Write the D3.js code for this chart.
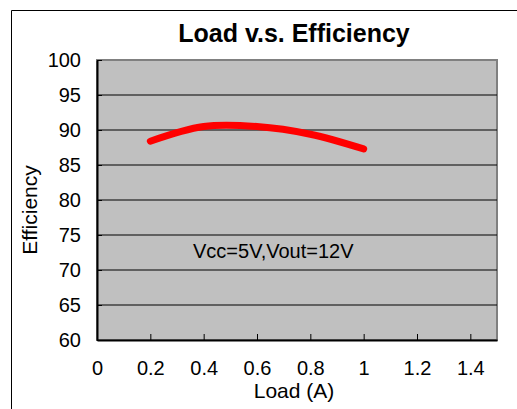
<!DOCTYPE html>
<html>
<head>
<meta charset="utf-8">
<script src="https://cdn.jsdelivr.net/npm/d3@7"></script>
<style>
  body { margin: 0; background: #fff; }
  text { font-family: "Liberation Sans", Arial, sans-serif; fill: #000; }
</style>
</head>
<body>
<svg width="517" height="409"></svg>
<script>
// Data
const loads = [0.2, 0.4, 0.6, 0.8, 1.0];
const efficiency = [88.4, 90.5, 90.5, 89.4, 87.3];
const xTicks = [0, 0.2, 0.4, 0.6, 0.8, 1, 1.2, 1.4];
const yTicks = [60, 65, 70, 75, 80, 85, 90, 95, 100];

const margin = {top: 60, right: 20, bottom: 69, left: 97},
      width = 400,
      height = 280;

const svg = d3.select("svg");

// Outer frame (left + top only visible)
svg.append("path")
    .attr("d", "M11.5,409 V10.5 H517")
    .attr("fill", "none")
    .attr("stroke", "#000")
    .attr("stroke-width", 1);

const g = svg.append("g")
    .attr("transform", `translate(${margin.left},${margin.top})`);

const x = d3.scaleLinear().domain([0, 1.5]).range([0, width]);
const y = d3.scaleLinear().domain([60, 100]).range([height, 0]);

// Plot area
g.append("rect")
    .attr("width", width)
    .attr("height", height)
    .attr("fill", "#c0c0c0")
    .attr("stroke", "#808080")
    .attr("stroke-width", 2);

// Gridlines
g.selectAll(".grid")
    .data(yTicks.filter(d => d > 60 && d < 100))
  .enter().append("line")
    .attr("class", "grid")
    .attr("x1", 0)
    .attr("x2", width)
    .attr("y1", d => y(d))
    .attr("y2", d => y(d))
    .attr("stroke", "#000")
    .attr("stroke-width", 1);

// Y axis
const yAxis = g.append("g")
    .call(d3.axisLeft(y).tickValues(yTicks).tickSizeInner(-5).tickSizeOuter(0).tickPadding(16));
yAxis.select(".domain").attr("stroke", "#000").attr("stroke-width", 2);
yAxis.selectAll(".tick line").attr("stroke", "#000");
yAxis.selectAll("text").style("font-size", "20px");

// X axis
const xAxis = g.append("g")
    .attr("transform", `translate(0,${height})`)
    .call(d3.axisBottom(x).tickValues(xTicks).tickFormat(d => d).tickSizeInner(-6).tickSizeOuter(0).tickPadding(21));
xAxis.select(".domain").attr("stroke", "#000").attr("stroke-width", 2);
xAxis.selectAll(".tick line").attr("stroke", "#000");
xAxis.selectAll("text").style("font-size", "20px");

// Line
const line = d3.line()
    .x((d, i) => x(loads[i]))
    .y(d => y(d))
    .curve(d3.curveCatmullRom.alpha(0.5));

g.append("path")
    .datum(efficiency)
    .attr("d", line)
    .attr("fill", "none")
    .attr("stroke", "#ff0000")
    .attr("stroke-width", 7)
    .attr("stroke-linecap", "round")
    .attr("stroke-linejoin", "round");

// Annotation
g.append("text")
    .attr("x", x(0.36))
    .attr("y", y(71.7))
    .style("font-size", "20px")
    .text("Vcc=5V,Vout=12V");

// Title
svg.append("text")
    .attr("x", 294)
    .attr("y", 42)
    .attr("text-anchor", "middle")
    .style("font-size", "25px")
    .style("font-weight", "bold")
    .text("Load v.s. Efficiency");

// Axis titles
svg.append("text")
    .attr("x", 294)
    .attr("y", 398)
    .attr("text-anchor", "middle")
    .style("font-size", "21px")
    .text("Load (A)");

svg.append("text")
    .attr("transform", "translate(37,210) rotate(-90)")
    .attr("text-anchor", "middle")
    .style("font-size", "21px")
    .text("Efficiency");
</script>
</body>
</html>
